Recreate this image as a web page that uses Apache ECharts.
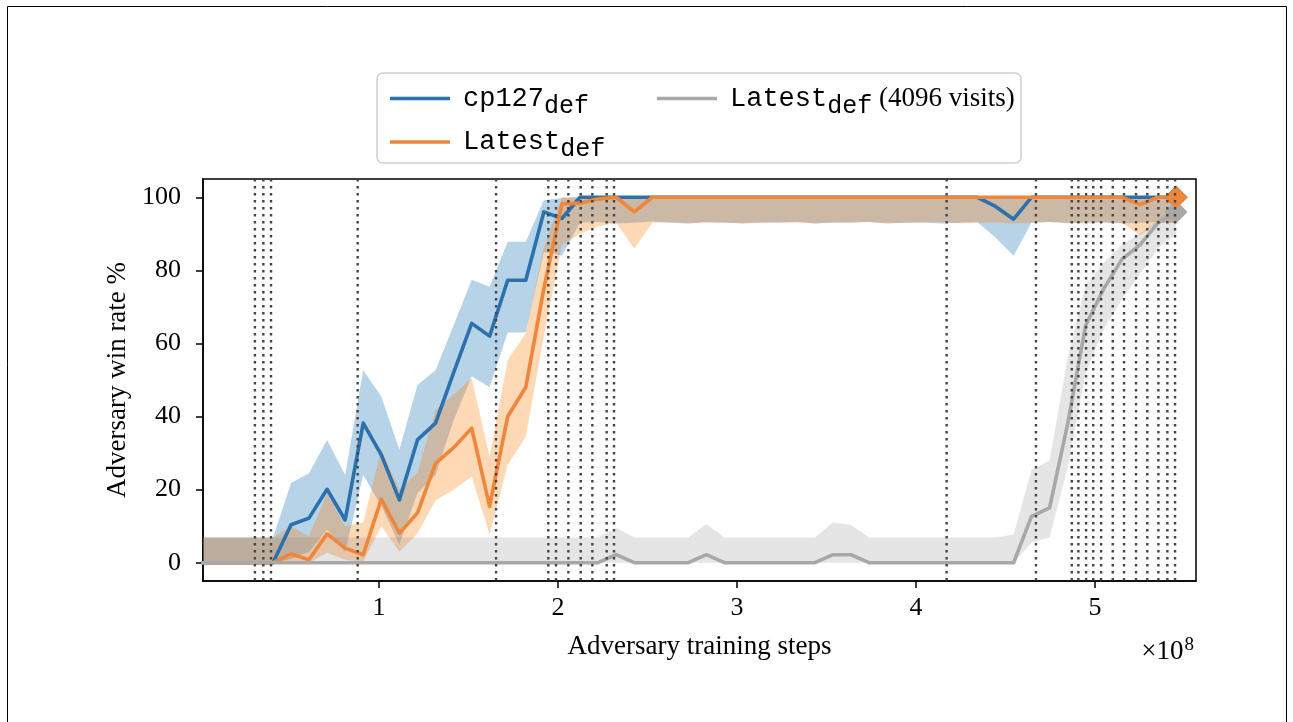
<!DOCTYPE html>
<html><head><meta charset="utf-8">
<script src="https://cdn.jsdelivr.net/npm/echarts@6/dist/echarts.min.js"></script>
<style>html,body{margin:0;padding:0;background:#fff}#c{width:1293px;height:722px}</style>
</head><body><div id="c"></div>
<script>
// x positions, units of 1e8 adversary training steps
const steps = [0.004,0.105,0.206,0.307,0.408,0.509,0.609,0.710,0.811,0.912,
  1.013,1.114,1.215,1.316,1.417,1.518,1.618,1.719,1.820,1.921,
  2.022,2.123,2.224,2.325,2.426,2.527,2.627,2.728,2.829,2.930,
  3.031,3.132,3.233,3.334,3.435,3.536,3.636,3.737,3.838,3.939,
  4.040,4.141,4.242,4.343,4.444,4.545,4.645,4.746,4.847,4.948,
  5.049,5.150,5.251,5.352,5.453];

const blueMean = [0,0,0,0,0,10.4,12.2,20.1,11.7,38.2,
  29.5,17.2,33.6,38.2,52,65.5,62,77.3,77.3,96,
  94.2,100,100,100,100,100,100,100,100,100,
  100,100,100,100,100,100,100,100,100,100,
  100,100,100,100,97.5,94,100,100,100,100,
  100,100,100,100,100];
const blueUpper = [6.9,6.9,6.9,6.9,6.9,21.8,24.5,33.6,24,52.7,
  45.5,30.9,48.6,52.7,65,77.4,75.5,87.8,87.8,99.2,
  99.8,100,100,100,100,100,100,100,100,100,
  100,100,100,100,100,100,100,100,100,100,
  100,100,100,100,100,100,100,100,100,100,
  100,100,100,100,100];
const blueLower = [0,0,0,0,0,1,3,9,3,24,
  15.5,5,19,24,39,51,48,63,63,85,
  84,93,93.2,92.8,93,93.4,93,92.8,93.2,93,
  92.9,93.1,93,93.3,92.8,93,93.1,93.2,92.9,93,
  93.1,92.8,93,93.2,89,84,93,93.2,92.9,93,
  93.1,92.8,93,93.2,93];

const orangeMean = [0,0,0,0,0,2.4,0.8,7.9,4,2.2,
  17.4,8.1,13.6,27.2,31.5,36.8,15.4,40,48,75,
  98.2,98.4,99.5,100,96,100,100,100,100,100,
  100,100,100,100,100,100,100,100,100,100,
  100,100,100,100,100,100,100,100,100,100,
  100,100,98,100,100];
const orangeUpper = [6.9,6.9,6.9,6.9,6.9,10,7.2,19,10,11,
  31,20,24.6,41.8,46,50.5,29,55.5,62.8,86.4,
  100,100,100,100,99.6,100,100,100,100,100,
  100,100,100,100,100,100,100,100,100,100,
  100,100,100,100,100,100,100,100,100,100,
  100,100,100,100,100];
const orangeLower = [0,0,0,0,0,0,0,2.7,0.8,0.3,
  10,3,8,17,20,23.6,7.7,26.8,34.5,62,
  87,90,92,93,86,93,93.2,92.9,93,93.1,
  92.8,93,93.2,93,92.9,93.1,93,93.3,92.8,93,
  93.1,93.2,92.9,93,93.1,92.8,93,93.2,93,92.9,
  93.1,93,89.6,93,93];

const grayMean = [0,0,0,0,0,0,0,0,0,0,
  0,0,0,0,0,0,0,0,0,0,
  0,0,0,2.2,0,0,0,0,2.2,0,
  0,0,0,0,0,2.2,2.2,0,0,0,
  0,0,0,0,0,0,12.7,15,38,65,
  75,83,87,93,96];
const grayUpper = [6.9,6.9,6.9,6.9,6.9,6.9,6.9,6.9,6.9,6.9,
  6.9,6.9,6.9,6.9,6.9,6.9,6.9,6.9,6.9,6.9,
  6.9,6.9,6.9,9.5,6.9,6.9,6.9,6.9,10.6,6.9,
  6.9,6.9,6.9,6.9,6.9,11,10.4,6.9,6.9,6.9,
  6.9,6.9,6.9,6.9,6.9,7.7,25.4,28,56,76,
  82,87,90,94,97];
const grayLower = [0,0,0,0,0,0,0,0,0,0,
  0,0,0,0,0,0,0,0,0,0,
  0,0,0,0,0,0,0,0,0,0,
  0,0,0,0,0,0,0,0,0,0,
  0,0,0,0,0,0,5.5,7,26,52,
  64,72,79,86,90];

// checkpoint switch markers (dotted vertical lines)
const switchSteps = [0.307,0.354,0.397,0.881,1.654,1.946,1.989,2.058,2.127,2.192,
  2.272,2.313,4.171,4.670,4.870,4.907,4.950,4.990,5.034,5.099,
  5.162,5.229,5.292,5.354,5.404,5.447];

const xTicks = [1,2,3,4,5];
const yTicks = [0,20,40,60,80,100];

const BLUE = '#2a71ad', ORANGE = '#f0863a', GRAY = '#a8a8a8';
const SERIF = 'Liberation Serif', MONO = 'Liberation Mono';

function band(name, up, lo, color) {
  return {
    type: 'custom', name: name, clip: true, z: 1, silent: true,
    data: steps.map((x, i) => [x, up[i], lo[i]]),
    encode: {x: 0, y: [1, 2]},
    renderItem: function (params, api) {
      if (params.dataIndex !== 0) return null;
      const pts = [];
      for (let i = 0; i < steps.length; i++) pts.push(api.coord([steps[i], up[i]]));
      for (let i = steps.length - 1; i >= 0; i--) pts.push(api.coord([steps[i], lo[i]]));
      return {type: 'polygon', shape: {points: pts}, style: {fill: color}};
    }
  };
}
function line(name, vals, color, z) {
  return {
    type: 'line', name: name, symbol: 'none', z: z, clip: true, silent: true,
    data: steps.map((x, i) => [x, vals[i]]),
    lineStyle: {color: color, width: 3.6, join: 'round'},
    itemStyle: {color: color}
  };
}
function diamond(vals, color, z) {
  const n = steps.length - 1;
  return {
    type: 'scatter', symbol: 'diamond', symbolSize: 23, z: z, silent: true,
    data: [[steps[n], vals[n]]], itemStyle: {color: color, opacity: 1}
  };
}

const chart = echarts.init(document.getElementById('c'), null, {renderer: 'canvas'});
const legendRich = {
  m: {fontFamily: MONO, fontSize: 27, color: '#000'},
  s: {fontFamily: MONO, fontSize: 25, color: '#000', padding: [15, 0, 0, 0]},
  r: {fontFamily: SERIF, fontSize: 27, color: '#000'}
};
const legendNames = {
  'cp127_def': '{m|cp127}{s|def}',
  'Latest_def': '{m|Latest}{s|def}',
  'Latest_def (4096 visits)': '{m|Latest}{s|def}{r|\u00a0(4096 visits)}'
};
chart.setOption({
  animation: false,
  backgroundColor: '#fff',
  grid: {left: 203, top: 179, width: 993, height: 402, show: true, borderColor: '#000', borderWidth: 1.5, backgroundColor: 'transparent'},
  xAxis: {
    type: 'value', min: 0.017, max: 5.564,
    name: 'Adversary training steps', nameLocation: 'middle', nameGap: 52,
    nameTextStyle: {fontFamily: SERIF, fontSize: 27, color: '#000'},
    axisLine: {show: true, onZero: false, lineStyle: {color: '#000', width: 1.5}},
    axisTick: {show: true, length: 7, lineStyle: {color: '#000', width: 1.5}, customValues: xTicks},
    axisLabel: {fontFamily: SERIF, fontSize: 26, color: '#000', margin: 14, customValues: xTicks},
    splitLine: {show: false}
  },
  yAxis: {
    type: 'value', min: -5, max: 105,
    name: 'Adversary win rate %', nameLocation: 'middle', nameGap: 72,
    nameTextStyle: {fontFamily: SERIF, fontSize: 27, color: '#000'},
    axisLine: {show: true, onZero: false, lineStyle: {color: '#000', width: 1.5}},
    axisTick: {show: true, length: 7, lineStyle: {color: '#000', width: 1.5}, customValues: yTicks},
    axisLabel: {fontFamily: SERIF, fontSize: 26, color: '#000', margin: 22, customValues: yTicks},
    splitLine: {show: false}
  },
  legend: [
    {data: ['cp127_def', 'Latest_def'], orient: 'vertical', left: 385, top: 80, itemWidth: 60, itemHeight: 3.6,
     icon: 'rect', itemGap: 10, selectedMode: false,
     formatter: n => legendNames[n], textStyle: {rich: legendRich, padding: [0, 0, 0, 8]}},
    {data: ['Latest_def (4096 visits)'], orient: 'vertical', left: 652, top: 80, itemWidth: 60, itemHeight: 3.6,
     icon: 'rect', selectedMode: false,
     formatter: n => legendNames[n], textStyle: {rich: legendRich, padding: [0, 0, 0, 8]}}
  ],
  graphic: [
    {type: 'rect', z: -1, shape: {x: 377, y: 73, width: 644, height: 90, r: 6}, style: {fill: '#fff', stroke: '#cfcfcf', lineWidth: 1.5}},
    {type: 'polyline', shape: {points: [[7.5, 722], [7.5, 6.5], [1286.5, 6.5], [1286.5, 722]]}, style: {stroke: '#000', lineWidth: 1, fill: null}},
    {type: 'text', x: 1194, y: 652, style: {text: '{a|×10}{b|8}', align: 'right', verticalAlign: 'middle',
      rich: {a: {fontFamily: SERIF, fontSize: 27, color: '#000'}, b: {fontFamily: SERIF, fontSize: 19, color: '#000', padding: [0, 0, 14, 1]}}}}
  ],
  series: [
    band('band cp127', blueUpper, blueLower, 'rgba(31,119,180,0.32)'),
    band('band latest', orangeUpper, orangeLower, 'rgba(255,127,14,0.30)'),
    band('band 4096', grayUpper, grayLower, 'rgba(127,127,127,0.2)'),
    line('cp127_def', blueMean, BLUE, 3),
    line('Latest_def', orangeMean, ORANGE, 4),
    line('Latest_def (4096 visits)', grayMean, GRAY, 5),
    diamond(blueMean, BLUE, 6),
    diamond(grayMean, GRAY, 7),
    diamond(orangeMean, ORANGE, 8),
    {
      type: 'custom', name: 'switches', z: 10, silent: true,
      data: switchSteps.map(v => [v, 0]), encode: {x: 0, y: 1},
      renderItem: function (params, api) {
        const x = api.coord([api.value(0), 0])[0];
        const cs = params.coordSys;
        return {type: 'line', shape: {x1: x, y1: cs.y, x2: x, y2: cs.y + cs.height},
          style: {stroke: '#444', lineWidth: 2.4, lineDash: [2.4, 4.6]}};
      }
    }
  ]
});
</script></body></html>
